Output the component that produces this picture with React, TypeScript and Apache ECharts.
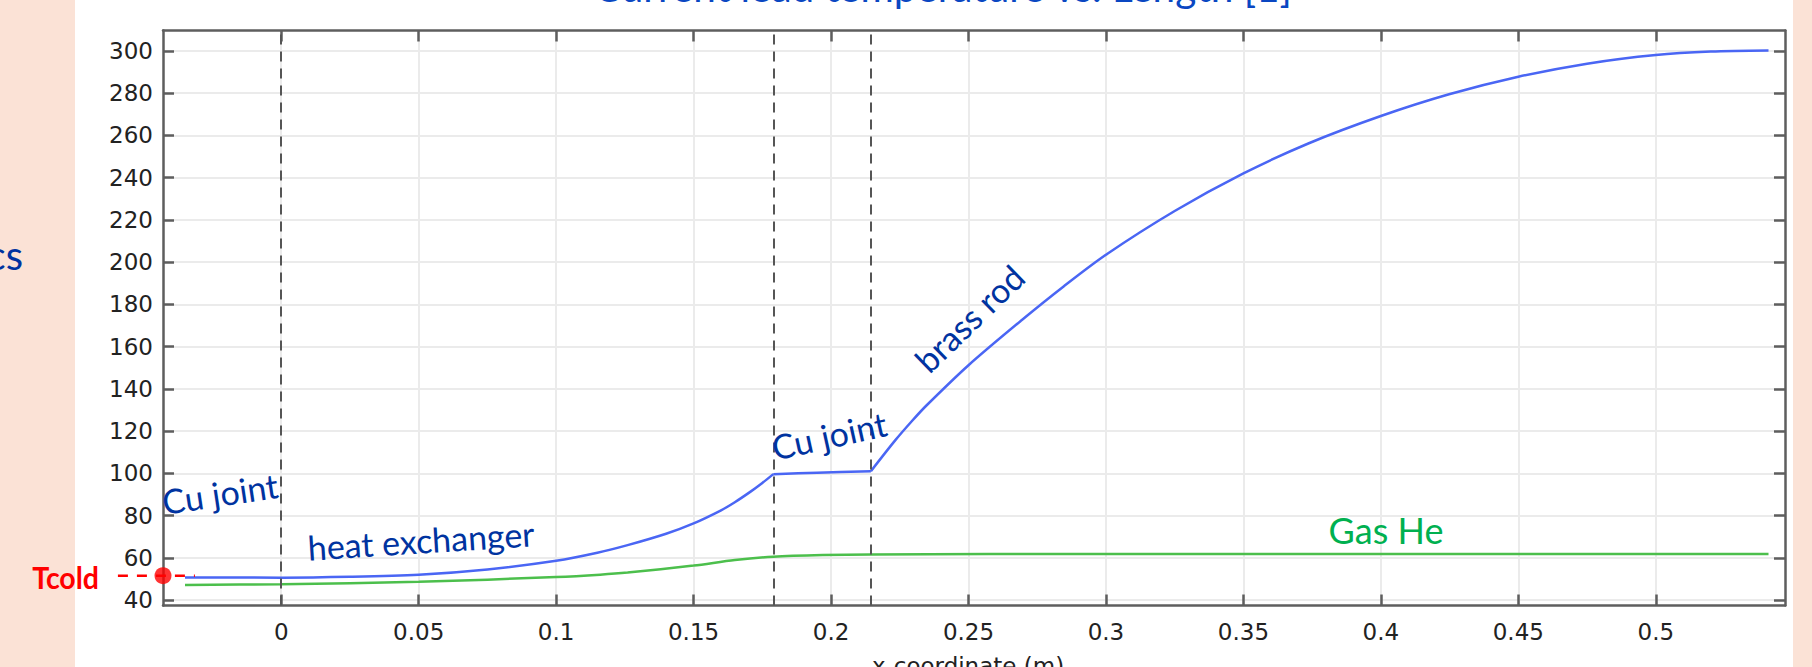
import React, { useEffect, useRef } from "react";
import * as echarts from "echarts";

// ---- axis ranges & ticks ----
const X_MIN = -0.043;
const X_MAX = 0.547;
const Y_MIN = 37.4;
const Y_MAX = 309.7;
const xTickValues = [0, 0.05, 0.1, 0.15, 0.2, 0.25, 0.3, 0.35, 0.4, 0.45, 0.5];
const yTickValues = [40, 60, 80, 100, 120, 140, 160, 180, 200, 220, 240, 260, 280, 300];

// ---- current lead temperature (blue) ----
const leadX = [
  -0.035, 0.0, 0.025, 0.05, 0.075, 0.1, 0.115, 0.126, 0.14, 0.15, 0.16, 0.165, 0.1706, 0.175,
  0.179, 0.195, 0.2145, 0.2234, 0.2296, 0.2346, 0.25, 0.2693, 0.2846, 0.3, 0.325, 0.35, 0.3736,
  0.4, 0.4248, 0.45, 0.475, 0.5, 0.52, 0.541,
];
const leadT = [
  50.7, 50.6, 51.0, 52.0, 54.5, 58.6, 62.4, 66.0, 71.4, 76.3, 82.5, 86.3, 91.2, 95.4,
  99.6, 100.3, 101.0, 115.7, 125.0, 132.0, 151.2, 172.5, 188.5, 203.5, 224.2, 242.0, 256.2,
  269.2, 279.5, 287.8, 294.0, 298.1, 299.7, 300.2,
];

// ---- gas helium temperature (green) ----
const heX = [-0.035, 0.0, 0.05, 0.1, 0.116, 0.126, 0.15, 0.165, 0.179, 0.197, 0.2145, 0.3, 0.4, 0.541];
const heT = [47.1, 47.5, 48.6, 50.9, 52.0, 53.0, 56.3, 58.9, 60.5, 61.3, 61.6, 61.8, 61.8, 61.8];

// ---- section boundaries (dashed) ----
const boundaryX = [0, 0.179, 0.2145];

// ---- T cold marker ----
const T_COLD = 51.5;
const tColdLeaderX = [-0.0594, -0.0314];

const TITLE = "Current lead temperature vs. Length [1]";
const X_NAME = "x-coordinate (m)";

const DARK_BLUE = "#0033a0";
const annotations = [
  { text: "Cu joint", x: 220, y: 493, deg: 8.5, size: 34, color: DARK_BLUE },
  { text: "heat exchanger", x: 421, y: 540, deg: 3.6, size: 34, color: DARK_BLUE },
  { text: "Cu joint", x: 829, y: 435, deg: 12.4, size: 34, color: DARK_BLUE },
  { text: "brass rod", x: 969, y: 318, deg: 44, size: 34, color: DARK_BLUE },
  { text: "Gas He", x: 1386, y: 530, deg: 0, size: 36, color: "#00b050" },
];

const AXIS_COLOR = "#5e5e5e";
const LABEL_FONT = "DejaVu Sans";
const LEAD_COLOR = "#4a66f4";

function sectionPoints(lo: number, hi: number) {
  const pts: number[][] = [];
  leadX.forEach((x, i) => {
    if (x >= lo && x <= hi) pts.push([x, leadT[i]]);
  });
  return pts;
}

export default function App() {
  const ref = useRef<HTMLDivElement>(null);

  useEffect(() => {
    if (!ref.current) return;
    const chart = echarts.init(ref.current, null, { renderer: "svg" });

    const frameAxisCommon = {
      type: "value" as const,
      axisLine: { show: true, onZero: false, lineStyle: { color: AXIS_COLOR, width: 2.5 } },
    };
    const tick = (values: number[]) => ({
      show: true,
      inside: true,
      length: 11,
      customValues: values,
      lineStyle: { color: AXIS_COLOR, width: 2.5 },
    });

    const sections = [
      sectionPoints(-Infinity, boundaryX[1]),
      sectionPoints(boundaryX[1], boundaryX[2]),
      sectionPoints(boundaryX[2], Infinity),
    ];

    const baseGraphic: any[] = [
      { id: "bgL", type: "rect", shape: { x: 0, y: 0, width: 75, height: 667 }, style: { fill: "#fbe2d6" }, z: -1, silent: true },
      { id: "bgR", type: "rect", shape: { x: 1793, y: 0, width: 19, height: 667 }, style: { fill: "#fbe2d6" }, z: -1, silent: true },
      {
        id: "side",
        type: "text",
        x: 23,
        y: 255,
        style: { text: "cs", fill: DARK_BLUE, fontFamily: "Lato", fontSize: 40, align: "right", verticalAlign: "middle" },
        z: 10,
      },
      {
        id: "title",
        type: "text",
        x: 943,
        y: -14,
        style: { text: TITLE, fill: "#0a47c2", fontFamily: "Lato", fontSize: 40.5, align: "center", verticalAlign: "middle" },
        z: 10,
      },
      ...annotations.map((a, i) => ({
        id: "ann" + i,
        type: "text",
        x: a.x,
        y: a.y,
        rotation: (a.deg * Math.PI) / 180,
        style: {
          text: a.text,
          fill: a.color,
          fontFamily: "Lato",
          fontSize: a.size,
          align: "center",
          verticalAlign: "middle",
        },
        z: 10,
      })),
    ];

    const option: any = {
      animation: false,
      backgroundColor: "#ffffff",
      grid: { left: 163, right: 27, top: 30.5, bottom: 61.5, containLabel: false, outerBoundsMode: "none" },
      xAxis: [
        {
          ...frameAxisCommon,
          position: "bottom",
          min: X_MIN,
          max: X_MAX,
          name: X_NAME,
          nameLocation: "middle",
          nameGap: 49,
          nameTextStyle: { fontFamily: LABEL_FONT, fontSize: 23, color: "#222", padding: [0, 12, 0, 0] },
          axisTick: tick(xTickValues),
          axisLabel: {
            show: true,
            customValues: xTickValues,
            margin: 15,
            fontFamily: LABEL_FONT,
            fontSize: 23,
            color: "#222",
          },
          splitLine: { show: true, lineStyle: { color: "#ebebeb", width: 2 } },
        },
        {
          ...frameAxisCommon,
          position: "top",
          min: X_MIN,
          max: X_MAX,
          axisTick: tick(xTickValues),
          axisLabel: { show: false, customValues: xTickValues },
          splitLine: { show: false },
        },
      ],
      yAxis: [
        {
          ...frameAxisCommon,
          position: "left",
          min: Y_MIN,
          max: Y_MAX,
          axisTick: tick(yTickValues),
          axisLabel: {
            show: true,
            customValues: yTickValues,
            margin: 10,
            fontFamily: LABEL_FONT,
            fontSize: 23,
            color: "#222",
          },
          splitLine: { show: true, lineStyle: { color: "#ebebeb", width: 2 } },
        },
        {
          ...frameAxisCommon,
          position: "right",
          min: Y_MIN,
          max: Y_MAX,
          axisTick: tick(yTickValues),
          axisLabel: { show: false, customValues: yTickValues },
          splitLine: { show: false },
        },
      ],
      series: [
        {
          name: "He gas",
          type: "line",
          data: heX.map((x, i) => [x, heT[i]]),
          showSymbol: false,
          symbol: "none",
          smooth: 0.3,
          lineStyle: { color: "#4cbf4c", width: 2.5 },
          z: 3,
        },
        ...sections.map((pts, i) => ({
          name: "Current lead " + (i + 1),
          type: "line",
          data: pts,
          showSymbol: false,
          symbol: "none",
          smooth: 0.3,
          lineStyle: { color: LEAD_COLOR, width: 2.5 },
          z: 4,
          markLine:
            i === 0
              ? {
                  silent: true,
                  symbol: "none",
                  precision: 4,
                  label: { show: false },
                  lineStyle: { color: "#555555", width: 2, type: [10, 7] },
                  data: boundaryX.map((x) => ({ xAxis: x })),
                }
              : undefined,
        })),
        {
          name: "Tcold",
          type: "scatter",
          data: [[X_MIN, T_COLD]],
          symbolSize: 17,
          clip: false,
          itemStyle: { color: "#ff0000" },
          z: 6,
        },
      ],
      graphic: baseGraphic,
    };

    chart.setOption(option);

    // T cold leader + label, positioned through the chart's own scales
    const p0 = chart.convertToPixel({ xAxisIndex: 0, yAxisIndex: 0 }, [tColdLeaderX[0], T_COLD]) as number[];
    const p1 = chart.convertToPixel({ xAxisIndex: 0, yAxisIndex: 0 }, [tColdLeaderX[1], T_COLD]) as number[];
    const pd = chart.convertToPixel({ xAxisIndex: 0, yAxisIndex: 0 }, [X_MIN, T_COLD]) as number[];
    chart.setOption({
      graphic: [
        ...baseGraphic,
        {
          id: "leader",
          type: "line",
          shape: { x1: p0[0], y1: p0[1], x2: p1[0], y2: p1[1] },
          style: { stroke: "#ff0000", lineWidth: 2.5, lineDash: [10, 9] },
          z: 5,
          silent: true,
        },
        {
          id: "tcold",
          type: "text",
          x: pd[0] - 64,
          y: pd[1] + 1,
          scaleX: 0.92,
          style: {
            text: "Tcold",
            fill: "#ff0000",
            fontFamily: "Lato",
            fontWeight: "bold",
            fontSize: 31,
            align: "right",
            verticalAlign: "middle",
          },
          z: 10,
        },
      ],
    });

    return () => chart.dispose();
  }, []);

  return (
    <div
      ref={ref}
      style={{ position: "absolute", left: 0, top: 0, width: 1812, height: 667, background: "#fff" }}
    />
  );
}
